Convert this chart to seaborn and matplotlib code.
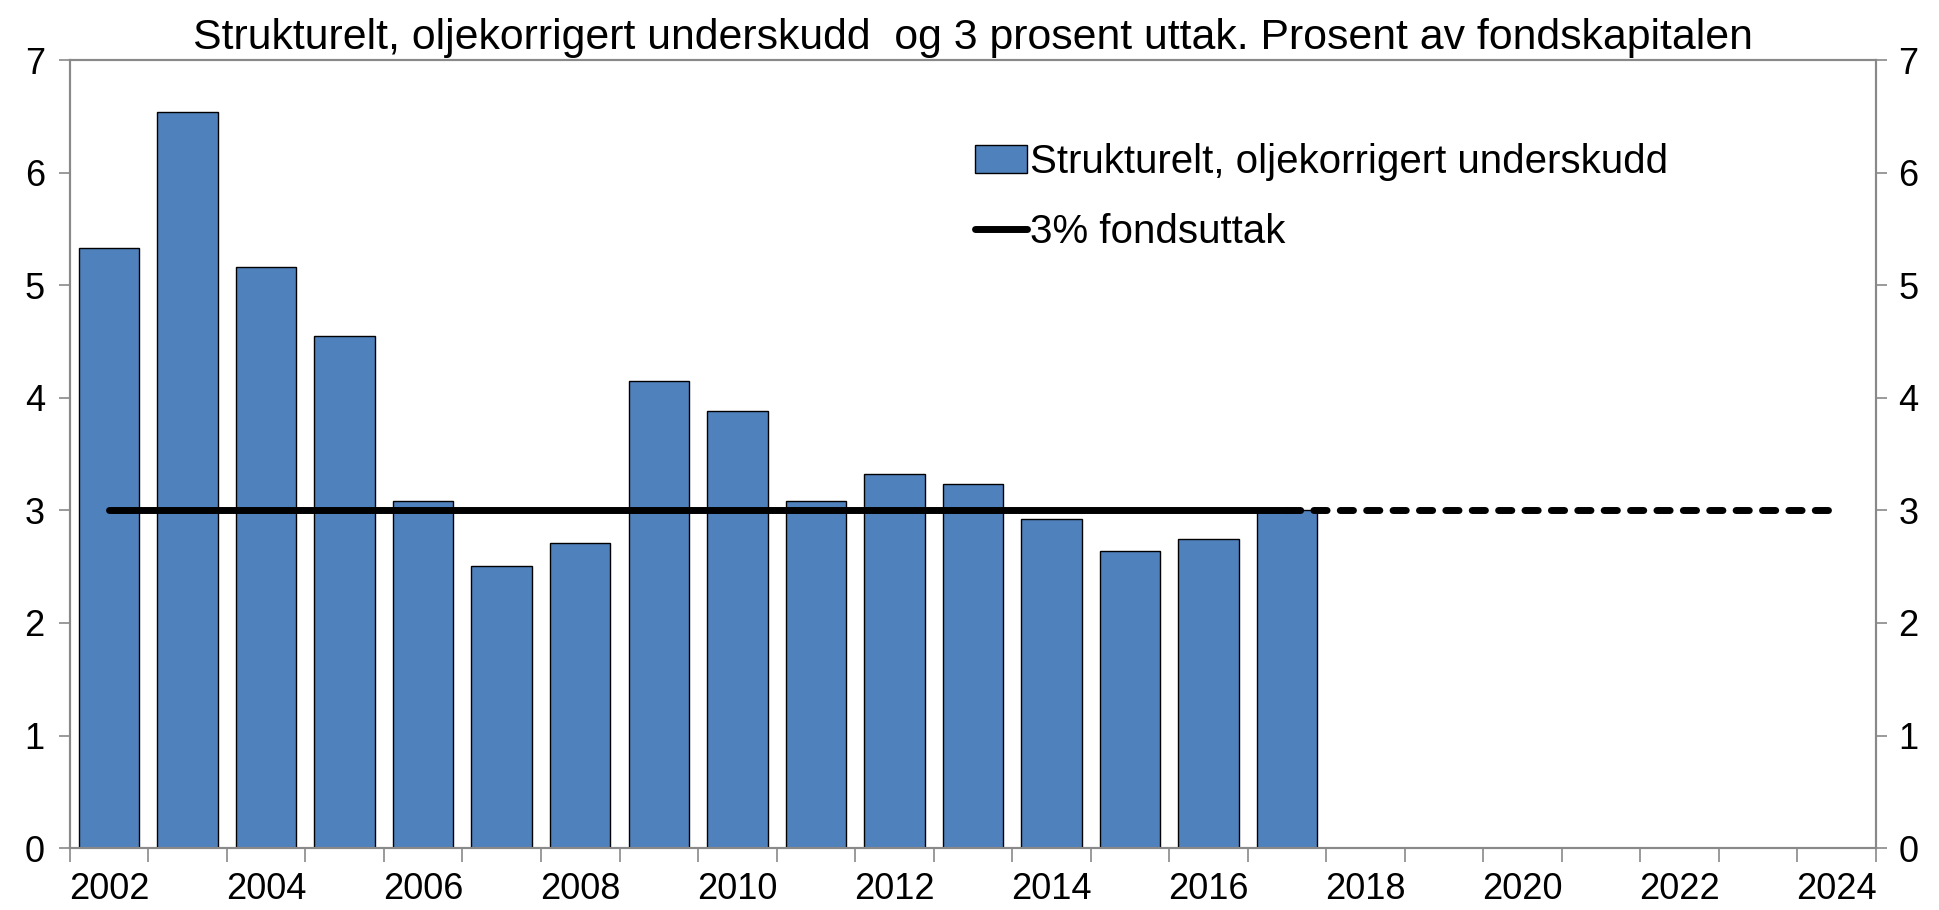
import matplotlib
matplotlib.use("Agg")
import matplotlib.pyplot as plt
import pandas as pd
import seaborn as sns

sns.set_style("white")
plt.rcParams["font.family"] = ["Liberation Sans", "DejaVu Sans"]
plt.rcParams["text.color"] = "black"
plt.rcParams["xtick.labelcolor"] = "black"
plt.rcParams["ytick.labelcolor"] = "black"

# data
years = [str(y) for y in range(2002, 2025)]
bar_years = [str(y) for y in range(2002, 2018)]
underskudd = [5.33, 6.54, 5.16, 4.55, 3.08, 2.51, 2.71, 4.15,
              3.88, 3.08, 3.32, 3.23, 2.92, 2.64, 2.75, 3.0]
solid_years = [str(y) for y in range(2002, 2018)]
solid_vals = [3.0] * 16
dashed_years = [str(y) for y in range(2017, 2025)]
dashed_vals = [3.0] * 8
label_years = years[::2]

BLUE = "#4F81BD"
GREY = "#898989"
FS_TICK = 26
FS_TITLE = 30.8
FS_LEG = 29

fig = plt.figure(figsize=(19.39, 9.10), dpi=100)
ax = fig.add_axes([0.036, 0.068, 0.9315, 0.866])

df = pd.DataFrame({"year": bar_years, "val": underskudd})
sns.barplot(data=df, x="year", y="val", order=years, color=BLUE,
            saturation=1, width=0.77, edgecolor="black", linewidth=1.0,
            ax=ax, label="Strukturelt, oljekorrigert underskudd")

pos = {y: i for i, y in enumerate(years)}
ax.plot([pos[y] for y in solid_years], solid_vals, color="black", lw=5,
        solid_capstyle="round", label="3% fondsuttak", zorder=5)
ax.plot([pos[y] for y in dashed_years], dashed_vals, color="black", lw=5,
        linestyle=(0, (1.9, 1.9)), dash_capstyle="round", zorder=5)

ax.set_xlim(-0.5, len(years) - 0.5)
ax.set_ylim(0, 7)
ax.set_yticks(range(0, 8))
ax.set_xlabel("")
ax.set_ylabel("")

# ticks at category boundaries, labels every second year at centres
ax.set_xticks([i - 0.5 for i in range(len(years) + 1)])
ax.set_xticklabels([])
ax.set_xticks([pos[y] for y in label_years], minor=True)
ax.set_xticklabels(label_years, minor=True)
ax.tick_params(axis="x", which="major", length=10, width=1.2, color=GREY,
               direction="out", bottom=True)
ax.tick_params(axis="x", which="minor", length=0, labelsize=FS_TICK, pad=17)
ax.tick_params(axis="y", length=8, width=1.2, color=GREY, direction="out",
               left=True, labelsize=FS_TICK, pad=10)

for s in ax.spines.values():
    s.set_color(GREY)
    s.set_linewidth(1.5)

ax2 = ax.twinx()
ax2.set_ylim(0, 7)
ax2.set_yticks(range(0, 8))
ax2.tick_params(axis="y", length=8, width=1.2, color=GREY, direction="out",
                right=True, labelsize=FS_TICK, pad=8)
for s in ax2.spines.values():
    s.set_color(GREY)
    s.set_linewidth(1.5)

ax.set_title("Strukturelt, oljekorrigert underskudd  og 3 prosent uttak. Prosent av fondskapitalen",
             fontsize=FS_TITLE, pad=8, color="black")

handles, labels = ax.get_legend_handles_labels()
order = [labels.index("Strukturelt, oljekorrigert underskudd"), labels.index("3% fondsuttak")]
ax.legend([handles[i] for i in order], [labels[i] for i in order],
          loc="upper left", bbox_to_anchor=(0.492, 0.915), frameon=False,
          fontsize=FS_LEG, handlelength=1.3, handletextpad=0.08,
          labelspacing=0.8, borderaxespad=0)

fig.savefig("out.png", dpi=100)
